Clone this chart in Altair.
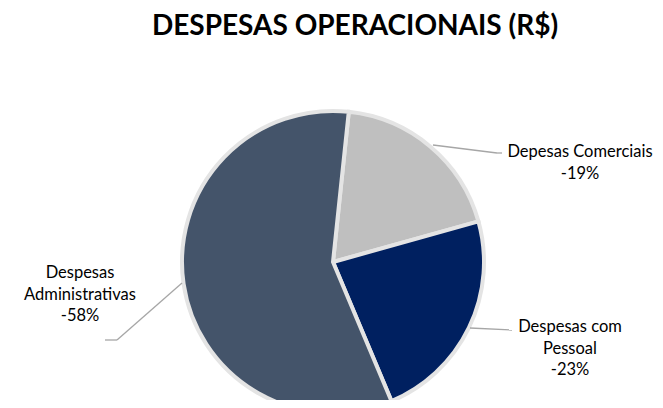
import math
import altair as alt
import pandas as pd

categories = ["Depesas Comerciais", "Despesas com Pessoal", "Despesas Administrativas"]
shares = [19, 23, 58]
colors = ["#BFBFBF", "#002060", "#44546A"]
label_lines = [
    ["Depesas Comerciais", "-19%"],
    ["Despesas com", "Pessoal", "-23%"],
    ["Despesas", "Administrativas", "-58%"],
]

df = pd.DataFrame({"cat": categories, "share": shares, "idx": list(range(len(categories)))})

FONT = "Lato"
CX, CY, R = 325, 254, 151
start = math.radians(6)

pie = alt.Chart(df).mark_arc(radius=R, stroke="#e4e4e4", strokeWidth=4).encode(
    theta=alt.Theta("share:Q", stack=True, scale=alt.Scale(range=[start, start + 2 * math.pi])),
    order=alt.Order("idx:Q"),
    color=alt.Color("cat:N", scale=alt.Scale(domain=categories, range=colors), legend=None),
    x=alt.value(CX),
    y=alt.value(CY),
)

one = pd.DataFrame({"a": [0]})

def rule(x1, y1, x2, y2):
    return alt.Chart(one).mark_rule(color="#a6a6a6", strokeWidth=1.3).encode(
        x=alt.value(x1), y=alt.value(y1), x2=alt.value(x2), y2=alt.value(y2)
    )

def label(lines, x, y):
    return alt.Chart(one).mark_text(
        font=FONT, fontSize=16.5, color="#000000", align="center", baseline="alphabetic",
        lineBreak="\n", lineHeight=21.5,
    ).encode(x=alt.value(x), y=alt.value(y), text=alt.value("\n".join(lines)))

title = alt.Chart(one).mark_text(
    font=FONT, fontSize=28, fontWeight="bold", color="#000000", align="center", baseline="alphabetic"
).encode(x=alt.value(347), y=alt.value(27), text=alt.value("DESPESAS OPERACIONAIS (R$)"))

leaders = [
    rule(425, 137, 489, 145), rule(489, 145, 494, 145),
    rule(462, 320, 504, 322),
    rule(97, 332, 109, 332), rule(109, 332, 174, 275),
]

labels = [
    label(label_lines[0], 572, 149),
    label(label_lines[1], 562, 324),
    label(label_lines[2], 72, 270),
]

chart = alt.layer(pie, *leaders, *labels, title).properties(
    width=647, height=392, padding=0,
    autosize=alt.AutoSizeParams(type="fit", contains="padding"),
).configure_view(stroke=None)

chart.save("out.html", embed_options={"renderer": "svg", "actions": False})
